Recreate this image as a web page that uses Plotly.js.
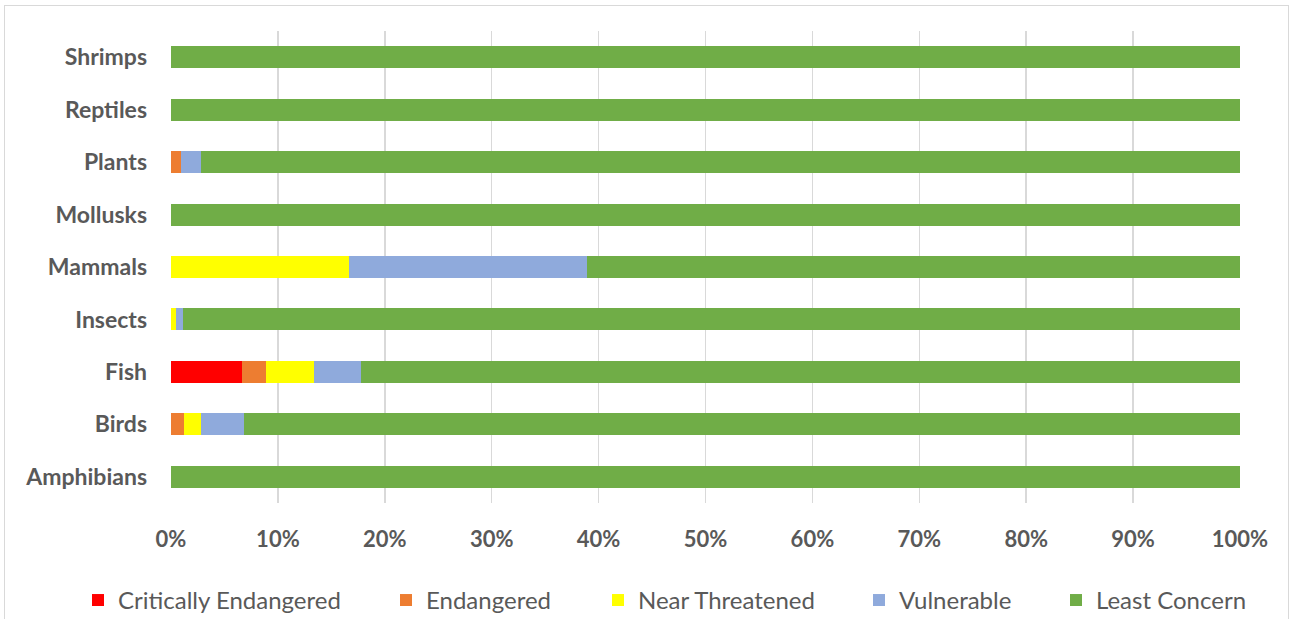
<!DOCTYPE html>
<html>
<head>
<meta charset="utf-8">
<script src="https://cdn.plot.ly/plotly-3.0.1.min.js"></script>
<style>
html,body{margin:0;padding:0;background:#fff;}
#frame{position:absolute;left:4px;top:5px;width:1285px;height:620px;border:1px solid #d9d9d9;box-sizing:border-box;}
#chart{position:absolute;left:0;top:0;width:1295px;height:619px;}
</style>
</head>
<body>
<div id="frame"></div>
<div id="chart"></div>
<script>
const categories = ["Amphibians","Birds","Fish","Insects","Mammals","Mollusks","Plants","Reptiles","Shrimps"];
const criticallyEndangered = [0, 0, 6.67, 0, 0, 0, 0, 0, 0];
const endangered          = [0, 1.2, 2.22, 0, 0, 0, 0.9, 0, 0];
const nearThreatened      = [0, 1.65, 4.44, 0.5, 16.67, 0, 0, 0, 0];
const vulnerable          = [0, 4.0, 4.44, 0.6, 22.22, 0, 1.9, 0, 0];
const leastConcern        = [100, 93.15, 82.23, 98.9, 61.11, 100, 97.2, 100, 100];
const seriesNames = ["Critically Endangered","Endangered","Near Threatened","Vulnerable","Least Concern"];
const xTickVals = [0,10,20,30,40,50,60,70,80,90,100];

const seriesValues = [criticallyEndangered, endangered, nearThreatened, vulnerable, leastConcern];
const colors = ["#FF0000","#ED7D31","#FFFF00","#8FAADC","#70AD47"];
const legendLeftPx = [92, 400, 612, 873, 1070];
const font = "Lato, 'Open Sans', sans-serif";
const legendIds = ["legend","legend2","legend3","legend4","legend5"];
const traces = seriesNames.map((n, i) => ({
  type:"bar", orientation:"h", name:n, legend:legendIds[i],
  x:seriesValues[i], y:categories,
  marker:{color:colors[i], line:{width:0}}, hoverinfo:"x+name"
}));
const layout = {
  width:1295, height:619,
  margin:{l:171, r:55, t:31, b:116},
  paper_bgcolor:"rgba(0,0,0,0)", plot_bgcolor:"rgba(0,0,0,0)",
  barmode:"stack", bargap:0.58,
  font:{family:font, color:"#595959"},
  xaxis:{range:[0,100], tickvals:xTickVals, ticktext:xTickVals.map(v=>v+"%"),
    showgrid:true, gridcolor:"#d9d9d9", gridwidth:1.5, zeroline:false,
    showline:false, ticks:"", ticklabelstandoff:21,
    tickfont:{family:font, size:22, color:"#595959", weight:"bold"}, fixedrange:true},
  yaxis:{categoryorder:"array", categoryarray:categories, showgrid:false, zeroline:false,
    showline:false, ticks:"", ticklabelstandoff:23,
    tickfont:{family:font, size:23, color:"#595959", weight:"bold"}, fixedrange:true},
  showlegend:true
};
legendIds.forEach((id, i) => {
  layout[id] = {orientation:"h", xref:"container", yref:"container",
    x:(legendLeftPx[i] - 14) / 1295, xanchor:"left", y:0.03, yanchor:"middle",
    itemwidth:30, font:{family:font, size:24, color:"#595959"}, bgcolor:"rgba(0,0,0,0)"};
});
Plotly.newPlot("chart", traces, layout, {displayModeBar:false, staticPlot:true});
</script>
</body>
</html>
